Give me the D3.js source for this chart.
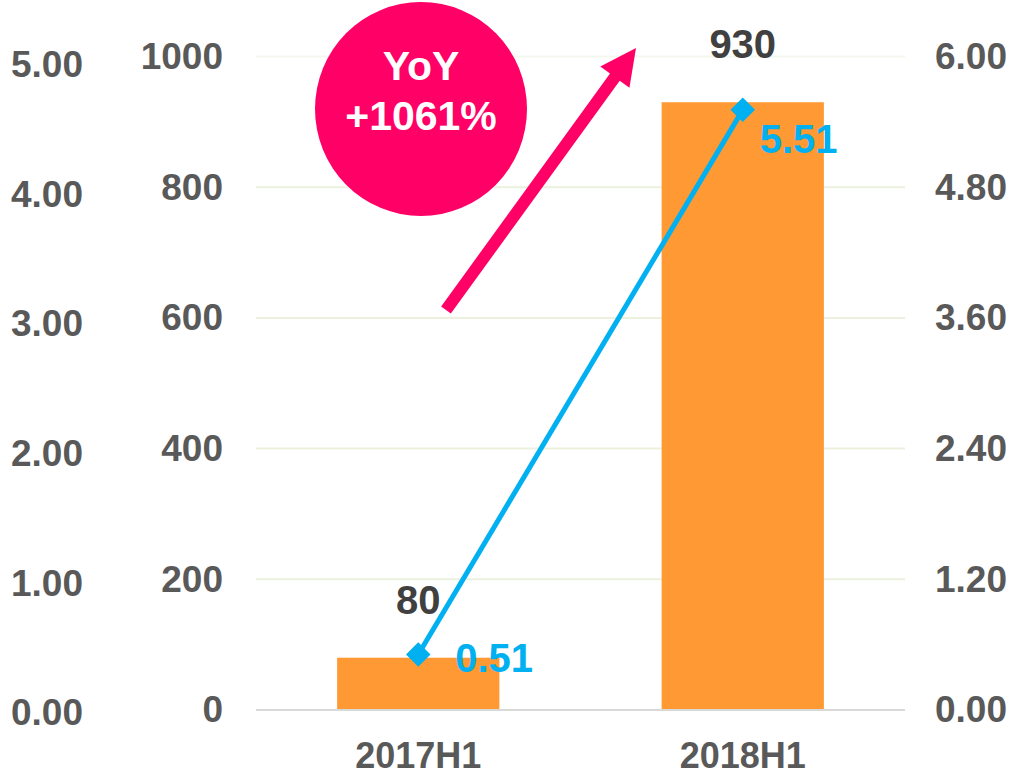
<!DOCTYPE html>
<html>
<head>
<meta charset="utf-8">
<script src="https://cdn.jsdelivr.net/npm/d3@7"></script>
<style>
  body { margin: 0; background: #fff; }
  svg { display: block; font-family: "Liberation Sans", Arial, sans-serif; font-weight: bold; }
</style>
</head>
<body>
<svg width="1012" height="776"></svg>
<script>
// data
var categories = ["2017H1", "2018H1"];
var barValues = [80, 930];
var lineValues = [0.51, 5.51];
var leftTicks = [0, 1, 2, 3, 4, 5];
var barTicks = [0, 200, 400, 600, 800, 1000];
var rightTicks = [0, 1.2, 2.4, 3.6, 4.8, 6];
var yoyText = ["YoY", "+1061%"];

var svg = d3.select("svg");

// scales
var x = d3.scaleBand()
  .domain(categories)
  .range([256, 905])
  .paddingInner(0.5)
  .paddingOuter(0.25);

var yBar = d3.scaleLinear().domain([0, 1000]).range([710, 56.5]);
var yRight = d3.scaleLinear().domain([0, 6]).range([710, 56.5]);
var yFar = d3.scaleLinear().domain([0, 5]).range([713, 64.5]);

// gridlines
svg.append("g")
  .selectAll("line")
  .data(barTicks.filter(function(d) { return d > 0; }))
  .enter().append("line")
  .attr("x1", 256).attr("x2", 905)
  .attr("y1", function(d) { return yBar(d); })
  .attr("y2", function(d) { return yBar(d); })
  .attr("stroke", "#ebf1de")
  .attr("stroke-width", 2)
  .attr("opacity", function(d) { return d == 1000 ? 0.5 : 1; });

// bars
svg.append("g")
  .selectAll("rect")
  .data(barValues)
  .enter().append("rect")
  .attr("x", function(d, i) { return x(categories[i]); })
  .attr("width", x.bandwidth())
  .attr("y", function(d) { return yBar(d); })
  .attr("height", function(d) { return yBar(0) - yBar(d); })
  .attr("fill", "#ff9933");

// baseline
svg.append("line")
  .attr("x1", 256).attr("x2", 905)
  .attr("y1", yBar(0)).attr("y2", yBar(0))
  .attr("stroke", "#d9d9d9")
  .attr("stroke-width", 2);

// axes
function styleAxis(g, size) {
  g.select(".domain").remove();
  g.selectAll("line").remove();
  g.selectAll("text")
    .attr("fill", "#595959")
    .style("font-size", (size || 37) + "px")
    .style("font-weight", "bold")
    .style("font-family", "'Liberation Sans', Arial, sans-serif");
}

svg.append("g")
  .attr("transform", "translate(83,0)")
  .call(d3.axisLeft(yFar).tickValues(leftTicks).tickFormat(d3.format(".2f")).tickSize(0).tickPadding(0))
  .call(styleAxis);

svg.append("g")
  .attr("transform", "translate(223,0)")
  .call(d3.axisLeft(yBar).tickValues(barTicks).tickFormat(d3.format("d")).tickSize(0).tickPadding(0))
  .call(styleAxis);

svg.append("g")
  .attr("transform", "translate(935,0)")
  .call(d3.axisRight(yRight).tickValues(rightTicks).tickFormat(d3.format(".2f")).tickSize(0).tickPadding(0))
  .call(styleAxis);

svg.append("g")
  .attr("transform", "translate(0,768)")
  .call(d3.axisBottom(x).tickSize(0).tickPadding(0))
  .call(styleAxis, 36)
  .selectAll("text").attr("dy", 0);

// bar labels
svg.append("g")
  .selectAll("text")
  .data(barValues)
  .enter().append("text")
  .attr("x", function(d, i) { return x(categories[i]) + x.bandwidth() / 2; })
  .attr("y", function(d) { return yBar(d) - 44; })
  .attr("text-anchor", "middle")
  .attr("fill", "#404040")
  .style("font-size", "40px")
  .text(function(d) { return d; });

// line
var cx = function(d, i) { return x(categories[i]) + x.bandwidth() / 2; };
var line = d3.line()
  .x(cx)
  .y(function(d) { return yRight(d); });

svg.append("path")
  .datum(lineValues)
  .attr("d", line)
  .attr("fill", "none")
  .attr("stroke", "#00b0f0")
  .attr("stroke-width", 5);

svg.append("g")
  .selectAll("path")
  .data(lineValues)
  .enter().append("path")
  .attr("d", d3.symbol().type(d3.symbolSquare).size(300))
  .attr("transform", function(d, i) { return "translate(" + cx(d, i) + "," + yRight(d) + ") rotate(45)"; })
  .attr("fill", "#00b0f0");

// line labels (offsets as Excel placed them)
var lineLabelOffset = [[37, 18], [17, 43]];
svg.append("g")
  .selectAll("text")
  .data(lineValues)
  .enter().append("text")
  .attr("x", function(d, i) { return cx(d, i) + lineLabelOffset[i][0]; })
  .attr("y", function(d, i) { return yRight(d) + lineLabelOffset[i][1]; })
  .attr("fill", "#00b0f0")
  .style("font-size", "40px")
  .text(function(d) { return d3.format(".2f")(d); });

// YoY bubble
svg.append("ellipse")
  .attr("cx", 421).attr("cy", 109)
  .attr("rx", 106).attr("ry", 107)
  .attr("fill", "#ff0066");

svg.append("g")
  .selectAll("text")
  .data(yoyText)
  .enter().append("text")
  .attr("x", 421)
  .attr("y", function(d, i) { return 80 + i * 50; })
  .attr("text-anchor", "middle")
  .attr("fill", "#fff")
  .style("font-size", "41px")
  .text(function(d) { return d; });

// arrow
var a0 = [446, 310], a1 = [636, 48];
var shaftW = 12, headW = 36, headL = 36;
var dx = a1[0] - a0[0], dy = a1[1] - a0[1];
var len = Math.sqrt(dx * dx + dy * dy);
var u = [dx / len, dy / len], n = [-u[1], u[0]];
var hb = [a1[0] - u[0] * headL, a1[1] - u[1] * headL];
function off(p, s) { return [p[0] + n[0] * s, p[1] + n[1] * s]; }
var arrowPts = [
  off(a0, shaftW / 2), off(hb, shaftW / 2), off(hb, headW / 2), a1,
  off(hb, -headW / 2), off(hb, -shaftW / 2), off(a0, -shaftW / 2)
];
svg.append("polygon")
  .attr("points", arrowPts.map(function(p) { return p.join(","); }).join(" "))
  .attr("fill", "#ff0066");
</script>
</body>
</html>
